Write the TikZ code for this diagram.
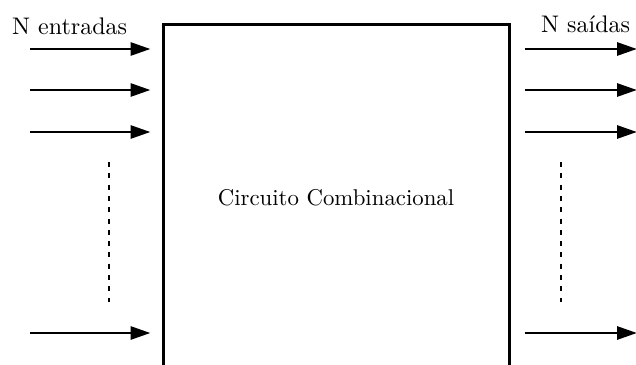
\documentclass[tikz,border=0pt]{standalone}
\usetikzlibrary{arrows.meta}
\begin{document}
\begin{tikzpicture}[x=1pt,y=-1pt,
  sig/.style={line width=2.9pt,-{Triangle[length=20pt,width=13pt]}},
  dots/.style={line width=2.4pt,dash pattern=on 5pt off 6.3pt},
  lbl/.style={inner sep=0pt},
  block/.style={draw,line width=3pt,minimum width=346pt,minimum height=348pt,
                inner sep=0pt}]
\useasboundingbox (0,0) rectangle (636,364);
\clip (0,0) rectangle (636,364);

% combinational block (extends below the frame)
\node[block] (box) at (336,198) {\scalebox{2.28}{Circuito Combinacional}};

% labels
\node[lbl,anchor=base west] (lin) at (12,34) {\scalebox{2.4}{N entradas}};
\node[lbl,anchor=base west] (lout) at (541,32) {\scalebox{2.4}{N saídas}};

% input and output signal ends
\coordinate (i1) at (30,49);
\coordinate (i2) at (30,90);
\coordinate (i3) at (30,132);
\coordinate (i4) at (30,333);
\coordinate (o1) at (637,49);
\coordinate (o2) at (637,90);
\coordinate (o3) at (637,132);
\coordinate (o4) at (637,333);

\foreach \k in {1,2,3,4}{
  \draw[sig,shorten >=11pt] (i\k) -- (i\k -| box.west);
  \draw[sig,shorten <=14pt] (o\k -| box.east) -- (o\k);
}

% ellipsis between the signals
\coordinate (dlt) at (109,162);
\coordinate (dlb) at (109,302);
\coordinate (drt) at (561,162);
\coordinate (drb) at (561,302);
\draw[dots] (dlt) -- (dlb);
\draw[dots] (drt) -- (drb);
\end{tikzpicture}
\end{document}
